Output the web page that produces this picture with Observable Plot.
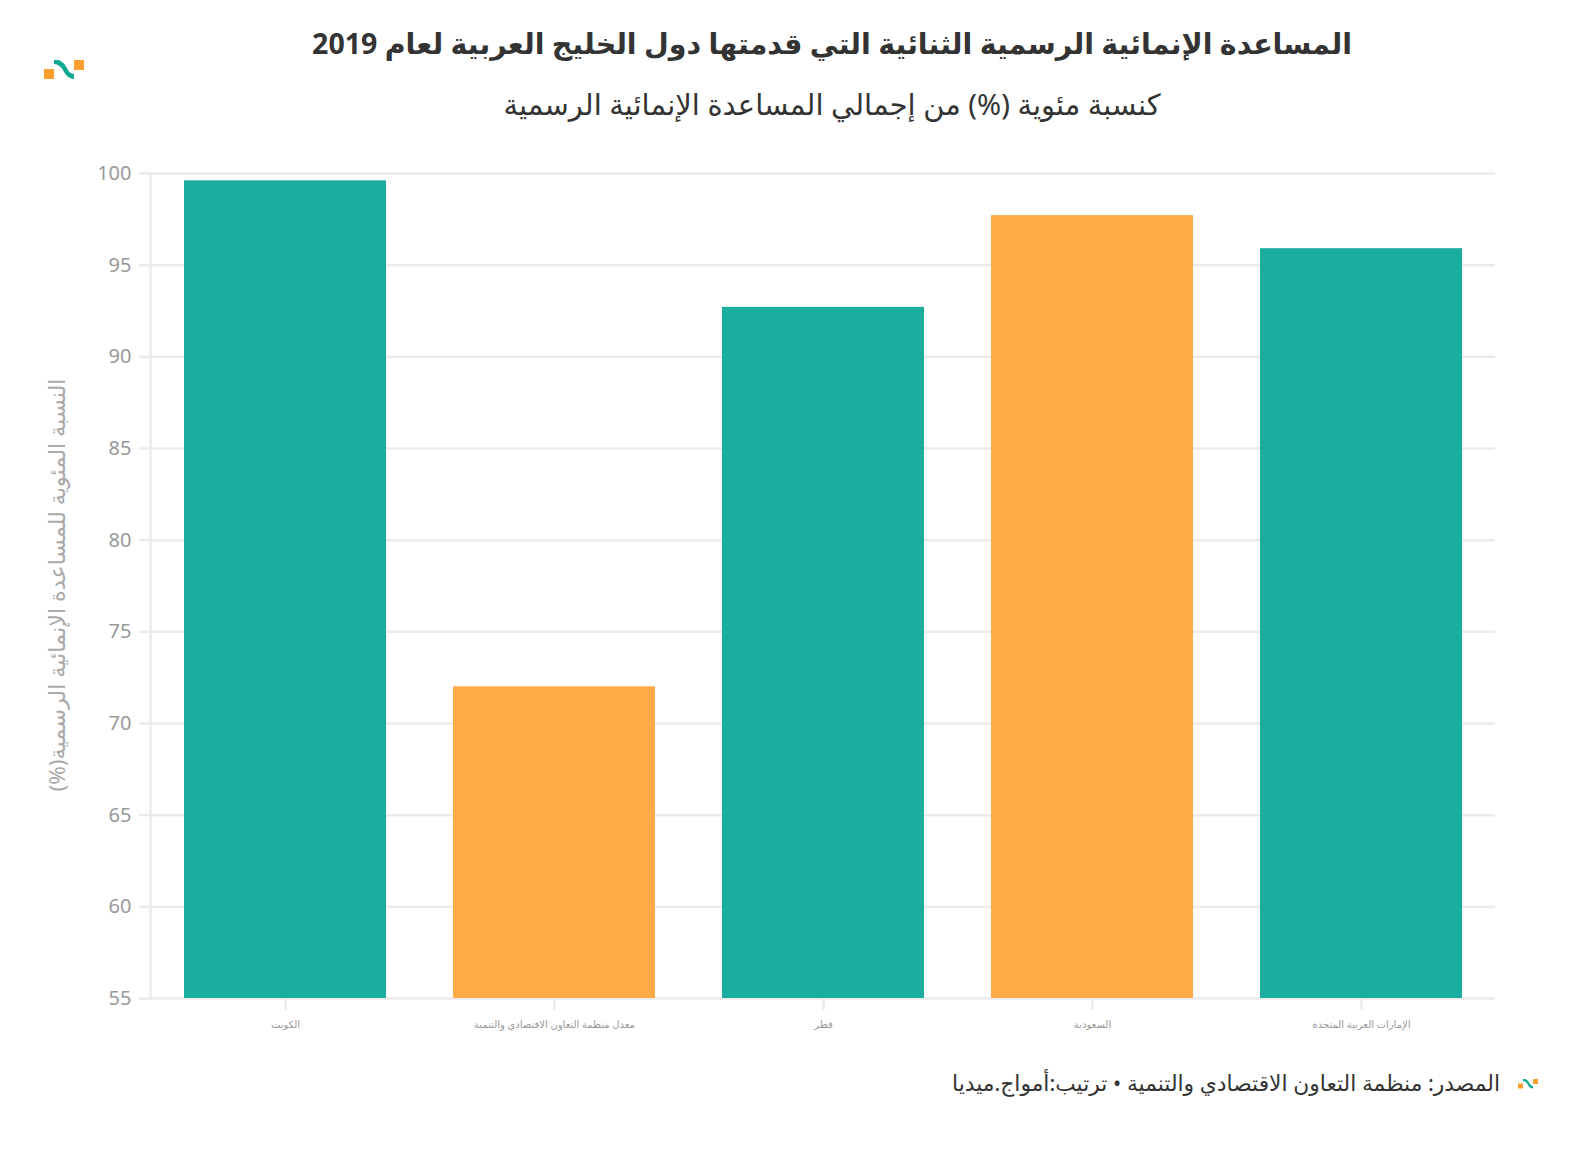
<!DOCTYPE html>
<html lang="ar">
<head>
<meta charset="utf-8">
<script src="https://cdn.jsdelivr.net/npm/d3@7"></script>
<script src="https://cdn.jsdelivr.net/npm/@observablehq/plot@0.6"></script>
<style>
  html, body { margin: 0; padding: 0; background: #fff; overflow: hidden; }
  body { width: 1592px; height: 1150px; position: relative; font-family: "Noto Sans", "DejaVu Sans", sans-serif; }
  #title { position: absolute; top: 24px; left: 72px; width: 1520px; text-align: center; font-size: 28.5px; font-weight: bold; color: #333; direction: rtl; }
  #subtitle { position: absolute; top: 84px; left: 72px; width: 1520px; text-align: center; font-size: 29px; color: #333; direction: rtl; }
  #chart { position: absolute; top: 150px; left: 0; width: 1592px; }
  #chart svg { max-width: none !important; width: 1592px; }
  #ylabel { position: absolute; left: 56px; top: 585px; transform: translate(-50%, -50%) rotate(-90deg); white-space: nowrap; font-size: 22.4px; color: #aaa; direction: rtl; z-index: 2; }
  #footer { position: absolute; top: 1068px; right: 92px; font-size: 21.8px; color: #333; direction: rtl; white-space: nowrap; }
  .logo { position: absolute; }
</style>
</head>
<body>
<div id="title">المساعدة الإنمائية الرسمية الثنائية التي قدمتها دول الخليج العربية لعام 2019</div>
<div id="subtitle">كنسبة مئوية (%) من إجمالي المساعدة الإنمائية الرسمية</div>
<svg class="logo" style="left:44px;top:60px" width="40" height="20" viewBox="0 0 40 20">
  <rect x="0" y="9" width="10" height="10" fill="#ff9f2e"/>
  <path d="M10 0 L15 0 Q20 2 24 10 Q26 14 30 14 L30 19 Q24 19 20 12 Q16 4 10 4 Z" fill="#0fa892"/>
  <rect x="30" y="0" width="10" height="10" fill="#ff9f2e"/>
</svg>
<div id="chart"></div>
<div id="ylabel">النسبة المئوية للمساعدة الإنمائية الرسمية(%)</div>
<div id="footer">المصدر: منظمة التعاون الاقتصادي والتنمية • ترتيب:أمواج.ميديا</div>
<svg class="logo" style="left:1518px;top:1079px" width="20" height="10" viewBox="0 0 40 20">
  <rect x="0" y="9" width="10" height="10" fill="#ff9f2e"/>
  <path d="M10 0 L15 0 Q20 2 24 10 Q26 14 30 14 L30 19 Q24 19 20 12 Q16 4 10 4 Z" fill="#0fa892"/>
  <rect x="30" y="0" width="10" height="10" fill="#ff9f2e"/>
</svg>
<script>
const countries = ["الكويت", "معدل منظمة التعاون الاقتصادي والتنمية", "قطر", "السعودية", "الإمارات العربية المتحدة"];
const values = [99.6, 72.0, 92.7, 97.7, 95.9];
const colors = ["#1bae9e", "#ffaa47", "#1bae9e", "#ffaa47", "#1bae9e"];
const yTicks = [55, 60, 65, 70, 75, 80, 85, 90, 95, 100];

const data = countries.map((c, i) => ({country: c, value: values[i], color: colors[i]}));

const chart = Plot.plot({
  width: 1592,
  height: 892,
  marginLeft: 150,
  marginRight: 97,
  marginTop: 23,
  marginBottom: 44,
  style: {fontFamily: "'Noto Sans', 'DejaVu Sans', sans-serif", background: "transparent"},
  x: {domain: countries, paddingInner: 0.25, paddingOuter: 0.125, label: null},
  y: {domain: [55, 100], label: null},
  marks: [
    Plot.axisY({ticks: yTicks, tickSize: 11, tickPadding: 8, stroke: "#ebebeb", strokeOpacity: 1, strokeWidth: 2.5, fill: "#999", fontSize: 20, label: null}),
    Plot.gridY(yTicks, {stroke: "#ebebeb", strokeOpacity: 1, strokeWidth: 2.5}),
    Plot.frame({anchor: "left", stroke: "#ebebeb", strokeWidth: 2.5}),
    Plot.barY(data, {x: "country", y1: 55, y2: "value", fill: "color"}),
    Plot.axisX({tickSize: 12, tickPadding: 10, stroke: "#ebebeb", strokeOpacity: 1, strokeWidth: 2.5, fill: "#999", fontSize: 10, label: null})
  ]
});
document.getElementById("chart").appendChild(chart);
</script>
</body>
</html>
